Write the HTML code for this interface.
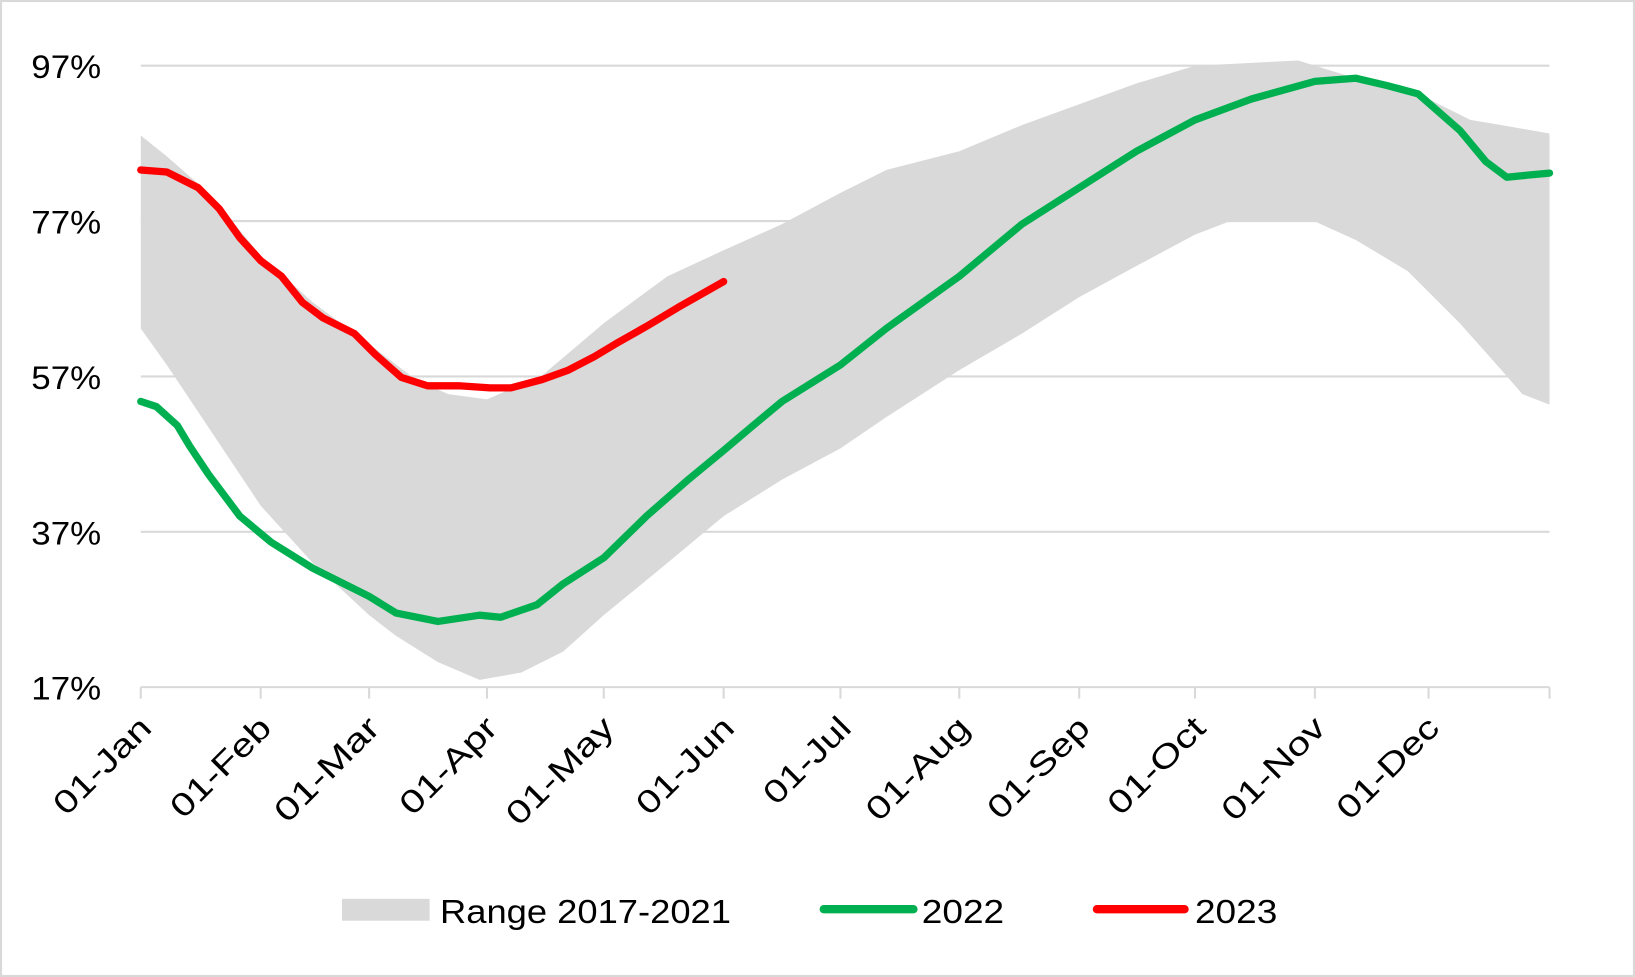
<!DOCTYPE html>
<html><head><style>html,body{margin:0;padding:0;background:#fff}svg{display:block}</style></head>
<body>
<svg width="1635" height="977" viewBox="0 0 1568 937" preserveAspectRatio="none" font-family="Liberation Sans, sans-serif">
<rect x="1" y="1" width="1566" height="935" fill="#fff" stroke="#d9d9d9" stroke-width="2"/>
<g stroke="#d9d9d9" stroke-width="2">
<line x1="135" y1="63" x2="1486" y2="63"/><line x1="135" y1="212" x2="1486" y2="212"/><line x1="135" y1="361" x2="1486" y2="361"/><line x1="135" y1="510" x2="1486" y2="510"/>
</g>
<path fill="#d9d9d9" d="M135,130 L160,150 L200,185 L250,245 L300,290 L354,330 L400,365 L430,378 L467,383 L520,360 L579,310 L640,265 L694,240 L750,215 L806,185 L850,163 L920,145 L980,120 L1035,100 L1090,80 L1146,63 L1245,58 L1300,75 L1370,95 L1410,115 L1440,120 L1486,128 L1486,388 L1460,378 L1440,355 L1400,310 L1350,260 L1300,230 L1260,212 L1180,212 L1146,225 L1090,255 L1035,285 L980,320 L920,355 L850,400 L806,430 L750,460 L694,495 L640,540 L579,590 L540,625 L500,645 L460,652 L420,635 L380,610 L354,590 L300,540 L250,485 L200,410 L160,350 L135,315 Z"/>
<g stroke="#d9d9d9" stroke-width="2">
<line x1="135" y1="659" x2="1486" y2="659"/>
<line x1="135" y1="659" x2="135" y2="670"/><line x1="250" y1="659" x2="250" y2="670"/><line x1="354" y1="659" x2="354" y2="670"/><line x1="467" y1="659" x2="467" y2="670"/><line x1="579" y1="659" x2="579" y2="670"/><line x1="694" y1="659" x2="694" y2="670"/><line x1="806" y1="659" x2="806" y2="670"/><line x1="920" y1="659" x2="920" y2="670"/><line x1="1035" y1="659" x2="1035" y2="670"/><line x1="1146" y1="659" x2="1146" y2="670"/><line x1="1261" y1="659" x2="1261" y2="670"/><line x1="1370" y1="659" x2="1370" y2="670"/><line x1="1486" y1="659" x2="1486" y2="670"/>
</g>
<polyline fill="none" stroke="#00b050" stroke-width="7" stroke-linejoin="round" stroke-linecap="round" points="135,385 150,390 170,408 176,418 182,428 200,455 230,495 260,520 300,545 354,572 380,588 420,596 460,590 480,592 515,580 540,560 579,535 620,495 660,460 694,432 720,410 750,385 806,350 850,315 920,265 980,215 1035,180 1090,145 1146,115 1200,95 1261,78 1300,75 1330,82 1360,90 1400,125 1425,155 1445,170 1465,168 1486,166"/>
<polyline fill="none" stroke="#ff0000" stroke-width="7" stroke-linejoin="round" stroke-linecap="round" points="135,163 160,165 190,180 210,200 230,228 250,250 270,265 290,290 310,305 340,320 360,340 385,362 410,370 440,370 470,372 490,372 520,364 545,355 570,342 590,330 620,313 650,295 694,270"/>
<g font-size="31" fill="#000" text-anchor="end">
<text x="97" y="75" textLength="67" lengthAdjust="spacingAndGlyphs">97%</text><text x="97" y="224" textLength="67" lengthAdjust="spacingAndGlyphs">77%</text><text x="97" y="373" textLength="67" lengthAdjust="spacingAndGlyphs">57%</text><text x="97" y="522" textLength="67" lengthAdjust="spacingAndGlyphs">37%</text><text x="97" y="671" textLength="67" lengthAdjust="spacingAndGlyphs">17%</text>
</g>
<g font-size="31" fill="#000" text-anchor="end">
<text transform="translate(147,700) rotate(-45)" textLength="118" lengthAdjust="spacingAndGlyphs">01-Jan</text>
<text transform="translate(262,700) rotate(-45)" textLength="122" lengthAdjust="spacingAndGlyphs">01-Feb</text>
<text transform="translate(366,700) rotate(-45)" textLength="128" lengthAdjust="spacingAndGlyphs">01-Mar</text>
<text transform="translate(479,700) rotate(-45)" textLength="118" lengthAdjust="spacingAndGlyphs">01-Apr</text>
<text transform="translate(591,700) rotate(-45)" textLength="132" lengthAdjust="spacingAndGlyphs">01-May</text>
<text transform="translate(706,700) rotate(-45)" textLength="118" lengthAdjust="spacingAndGlyphs">01-Jun</text>
<text transform="translate(818,700) rotate(-45)" textLength="104" lengthAdjust="spacingAndGlyphs">01-Jul</text>
<text transform="translate(932,700) rotate(-45)" textLength="126" lengthAdjust="spacingAndGlyphs">01-Aug</text>
<text transform="translate(1047,700) rotate(-45)" textLength="124" lengthAdjust="spacingAndGlyphs">01-Sep</text>
<text transform="translate(1158,700) rotate(-45)" textLength="118" lengthAdjust="spacingAndGlyphs">01-Oct</text>
<text transform="translate(1273,700) rotate(-45)" textLength="126" lengthAdjust="spacingAndGlyphs">01-Nov</text>
<text transform="translate(1382,700) rotate(-45)" textLength="124" lengthAdjust="spacingAndGlyphs">01-Dec</text>
</g>
<rect x="328" y="862" width="84" height="21" fill="#d9d9d9"/>
<text x="422" y="885" font-size="32" textLength="279" lengthAdjust="spacingAndGlyphs">Range 2017-2021</text>
<line x1="790" y1="872" x2="876" y2="872" stroke="#00b050" stroke-width="8" stroke-linecap="round"/>
<text x="884" y="885" font-size="32" textLength="79" lengthAdjust="spacingAndGlyphs">2022</text>
<line x1="1052" y1="872" x2="1136" y2="872" stroke="#ff0000" stroke-width="8" stroke-linecap="round"/>
<text x="1146" y="885" font-size="32" textLength="79" lengthAdjust="spacingAndGlyphs">2023</text>
</svg>
</body></html>
